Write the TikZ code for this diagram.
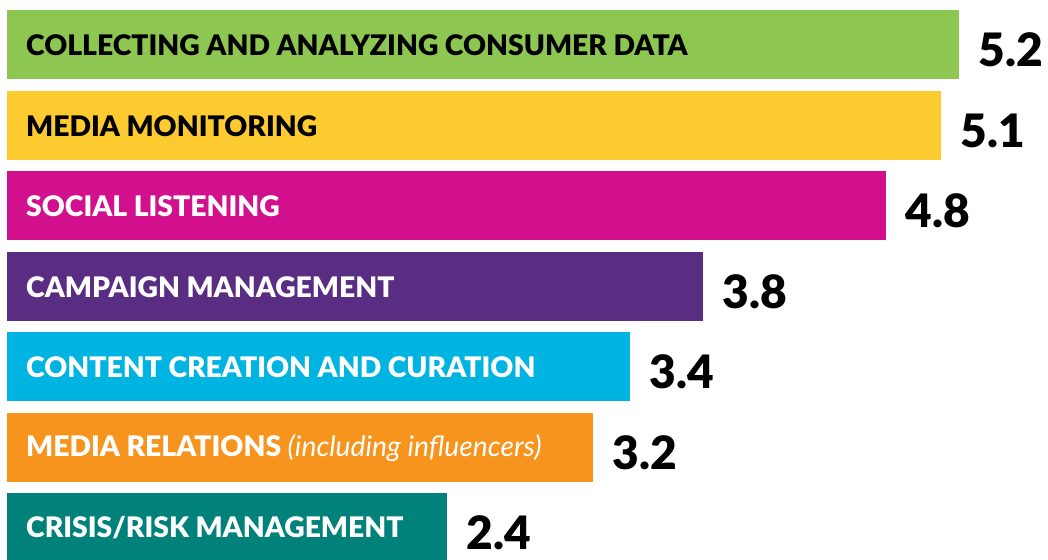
\documentclass[tikz,border=0pt]{standalone}
\usepackage{fontspec}
\setmainfont{Lato}[BoldFont={Lato Black}]
\usepackage{xcolor}
\definecolor{barGreen}{HTML}{8DC752}
\definecolor{barYellow}{HTML}{FDCA30}
\definecolor{barMagenta}{HTML}{D20F8C}
\definecolor{barPurple}{HTML}{592D82}
\definecolor{barCyan}{HTML}{00B4E1}
\definecolor{barOrange}{HTML}{F7941E}
\definecolor{barTeal}{HTML}{00827A}
\usetikzlibrary{positioning}

\begin{document}
\begin{tikzpicture}[x=1pt,y=1pt,node distance=19pt,
					bar/.style={rectangle,draw=none,minimum height=69pt,inner sep=0pt,anchor=north west},
					label/.style={inner sep=0pt,anchor=west,font=\fontsize{28.3}{28}\selectfont\bfseries},
					value/.style={inner sep=0pt,anchor=west,font=\fontsize{46}{46}\selectfont\bfseries,yshift=-5pt},
				]

  \useasboundingbox (0,0) rectangle (1048,-559);

  \node[bar,fill=barGreen,minimum width=952pt]	(b1) at (7,-10)  {};
  \node[bar,fill=barYellow,minimum width=934pt]	(b2) at (7,-91)  {};
  \node[bar,fill=barMagenta,minimum width=879pt]	(b3) at (7,-171) {};
  \node[bar,fill=barPurple,minimum width=696pt]	(b4) at (7,-252) {};
  \node[bar,fill=barCyan,minimum width=623pt]	(b5) at (7,-332) {};
  \node[bar,fill=barOrange,minimum width=586pt]	(b6) at (7,-413) {};
  \node[bar,fill=barTeal,minimum width=440pt]	(b7) at (7,-493) {};

  \node[label,text=black]	(l1) [right=19pt of b1.west] {COLLECTING AND ANALYZING CONSUMER DATA};
  \node[label,text=black]	(l2) [right=19pt of b2.west] {MEDIA MONITORING};
  \node[label,text=white]	(l3) [right=19pt of b3.west] {SOCIAL LISTENING};
  \node[label,text=white]	(l4) [right=19pt of b4.west] {CAMPAIGN MANAGEMENT};
  \node[label,text=white]	(l5) [right=19pt of b5.west] {CONTENT CREATION AND CURATION};
  \node[label,text=white]	(l6) [right=19pt of b6.west] {MEDIA RELATIONS {\mdseries\itshape (including influencers)}};
  \node[label,text=white]	(l7) [right=19pt of b7.west] {CRISIS/RISK MANAGEMENT};

  \node[value]	(v1) [right=of b1] {5.2};
  \node[value]	(v2) [right=of b2] {5.1};
  \node[value]	(v3) [right=of b3] {4.8};
  \node[value]	(v4) [right=of b4] {3.8};
  \node[value]	(v5) [right=of b5] {3.4};
  \node[value]	(v6) [right=of b6] {3.2};
  \node[value]	(v7) [right=of b7] {2.4};
\end{tikzpicture}
\end{document}
